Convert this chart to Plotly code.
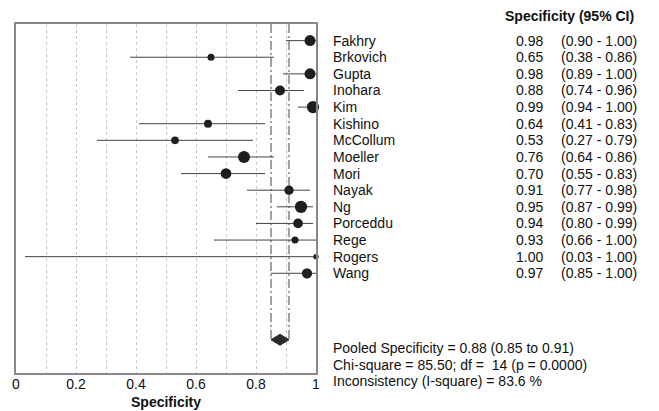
import plotly.graph_objects as go

studies = ["Fakhry", "Brkovich", "Gupta", "Inohara", "Kim", "Kishino", "McCollum",
           "Moeller", "Mori", "Nayak", "Ng", "Porceddu", "Rege", "Rogers", "Wang"]
spec = [0.98, 0.65, 0.98, 0.88, 0.99, 0.64, 0.53, 0.76, 0.70, 0.91, 0.95, 0.94, 0.93, 1.00, 0.97]
ci_low = [0.90, 0.38, 0.89, 0.74, 0.94, 0.41, 0.27, 0.64, 0.55, 0.77, 0.87, 0.80, 0.66, 0.03, 0.85]
ci_high = [1.00, 0.86, 1.00, 0.96, 1.00, 0.83, 0.79, 0.86, 0.83, 0.98, 0.99, 0.99, 1.00, 1.00, 1.00]
weights = [11, 7, 11, 10, 12.3, 8, 7.7, 12, 10.7, 9.3, 12.3, 9.7, 7, 5.3, 10.3]

pooled = 0.88
pooled_low = 0.85
pooled_high = 0.91
pooled_lines = ["Pooled Specificity = 0.88 (0.85 to 0.91)",
                "Chi-square = 85.50; df =  14 (p = 0.0000)",
                "Inconsistency (I-square) = 83.6 %"]
x_ticks = [0, 0.2, 0.4, 0.6, 0.8, 1]
x_tick_labels = ["0", "0.2", "0.4", "0.6", "0.8", "1"]

rows = list(range(1, len(studies) + 1))
pooled_row = len(studies) + 4
FONT = "Liberation Sans, Arial, sans-serif"
TXT = "#111111"

fig = go.Figure()

# CI lines
for i, r in enumerate(rows):
    fig.add_trace(go.Scatter(x=[ci_low[i], ci_high[i]], y=[r, r], mode="lines",
                             line=dict(color="#444444", width=1), showlegend=False,
                             hoverinfo="skip", cliponaxis=False))

# point estimates
fig.add_trace(go.Scatter(x=spec, y=rows, mode="markers",
                         marker=dict(size=weights, color="#1e1e1e", opacity=1,
                                     line=dict(width=0)),
                         opacity=1, showlegend=False, cliponaxis=False))

# pooled vertical dash lines
for xv in (pooled_low, pooled_high):
    fig.add_trace(go.Scatter(x=[xv, xv], y=[0, pooled_row], mode="lines",
                             line=dict(color="#444444", width=1, dash="9px,3px,2px,3px"),
                             showlegend=False, hoverinfo="skip"))

# pooled diamond
fig.add_trace(go.Scatter(x=[pooled_low, pooled, pooled_high, pooled, pooled_low],
                         y=[pooled_row, pooled_row - 0.33, pooled_row, pooled_row + 0.33, pooled_row],
                         mode="lines", fill="toself", fillcolor="#2a2a2a",
                         line=dict(color="#2a2a2a", width=1), showlegend=False))

PLOT_L, PLOT_W, PLOT_BOT, PLOT_H = 12, 304.0, 373.0, 349.0

def px_x(px):
    return (px - PLOT_L) / PLOT_W

def px_y(py):
    return (PLOT_BOT - py) / PLOT_H

def f():
    return dict(family=FONT, size=14, color=TXT)

ann = []
ann.append(dict(x=px_x(505), y=px_y(16), xref="paper", yref="paper", xanchor="left",
                yanchor="middle", text="<b>Specificity (95% CI)</b>", showarrow=False, font=f()))
for i, r in enumerate(rows):
    ann.append(dict(x=px_x(331), y=r, xref="paper", yref="y", xanchor="left",
                    yanchor="middle", text=studies[i], showarrow=False, font=f()))
    ann.append(dict(x=px_x(548), y=r, xref="paper", yref="y", xanchor="right",
                    yanchor="middle", text=f"{spec[i]:.2f}", showarrow=False, font=f()))
    ann.append(dict(x=px_x(562), y=r, xref="paper", yref="y", xanchor="left",
                    yanchor="middle", text=f"({ci_low[i]:.2f} - {ci_high[i]:.2f})",
                    showarrow=False, font=f()))
for j, line in enumerate(pooled_lines):
    ann.append(dict(x=px_x(331), y=px_y(348 + j * 16.5), xref="paper", yref="paper",
                    xanchor="left", yanchor="middle", text=line, showarrow=False, font=f()))
ann.append(dict(x=0.5, y=px_y(402), xref="paper", yref="paper", xanchor="center",
                yanchor="middle", text="<b>Specificity</b>", showarrow=False, font=f()))

fig.update_layout(
    width=659, height=411,
    margin=dict(l=12, r=343, t=24, b=38),
    paper_bgcolor="white", plot_bgcolor="white",
    annotations=ann,
    xaxis=dict(range=[0, 1], tickvals=x_ticks, ticktext=x_tick_labels,
               showgrid=True, gridcolor="#c8c8c8", griddash="dot", gridwidth=1,
               minor=dict(dtick=0.1, tick0=0, showgrid=True, gridcolor="#c8c8c8", griddash="dot"),
               showline=True, mirror=True, linecolor="#888888", linewidth=1.5,
               ticks="", zeroline=False, ticklabelstandoff=-3,
               tickfont=f()),
    yaxis=dict(range=[21, 0], showgrid=False, zeroline=False, showticklabels=False,
               showline=True, mirror=True, linecolor="#888888", linewidth=1.5, ticks=""),
    font=f(),
)

fig.write_html("out.html")
